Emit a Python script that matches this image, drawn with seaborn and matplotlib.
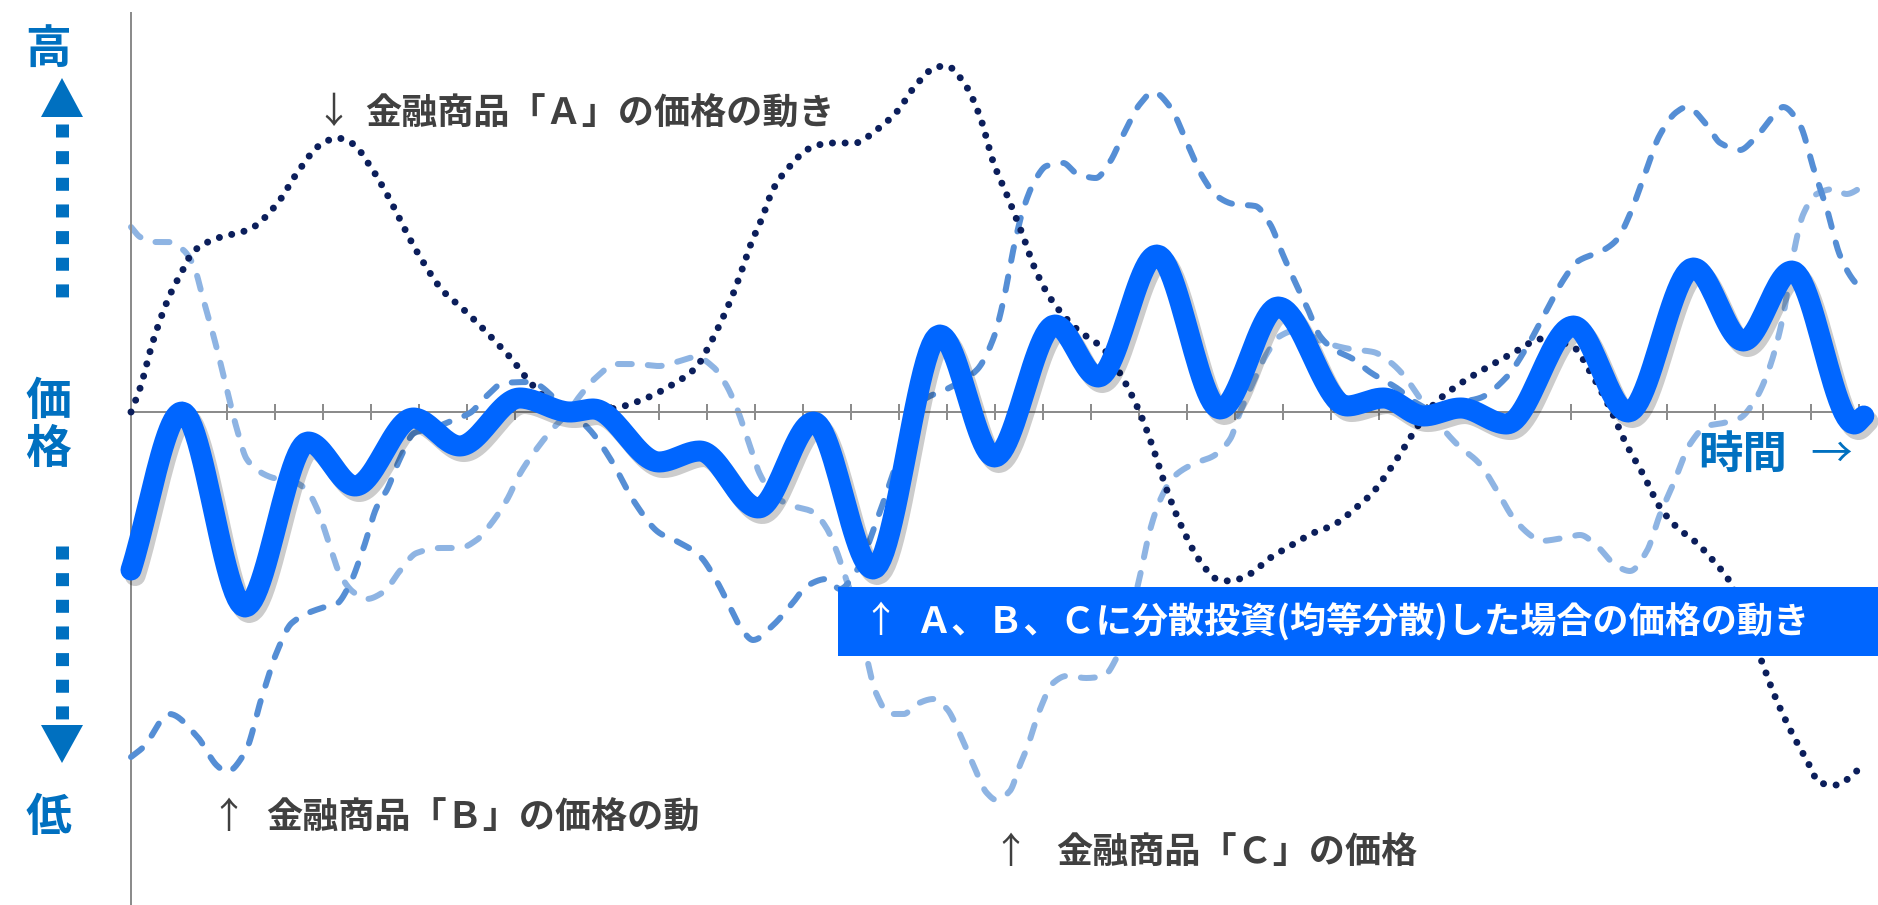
import numpy as np
import matplotlib
matplotlib.use("Agg")
import matplotlib.pyplot as plt
import matplotlib.patheffects as pe
from matplotlib.patches import Polygon, Rectangle
import seaborn as sns

# ---------------- data ----------------
# x: time (tick units 0..36), y: price relative to the axis
a_x = [0, 0.19, 0.46, 0.81, 1.06, 1.29, 1.75, 2.48, 3.04, 3.46, 3.94, 4.29, 4.63, 4.94,
       5.33, 5.81, 6.06, 6.5, 6.85, 7.24, 7.6, 7.93, 8.24, 8.7, 9.5, 10.19, 10.74, 11.23,
       11.78, 12.03, 12.27, 12.51, 12.69, 12.93, 13.14, 13.38, 13.73, 14.11, 14.56, 15.08,
       15.53, 15.95, 16.37, 16.78, 16.99, 17.37, 17.69, 17.97, 18.24, 18.6, 18.8, 19.15,
       19.7, 20.26, 20.67, 21.02, 21.3, 21.58, 21.92, 22.27, 22.62, 22.9, 23.31, 23.73,
       24.15, 24.63, 25.05, 25.54, 25.88, 26.16, 26.44, 26.78, 27.13, 27.62, 28.45, 28.94,
       29.35, 30.05, 30.4, 30.81, 31.15, 31.5, 31.85, 32.2, 32.62, 32.97, 33.3, 33.94,
       34.22, 34.56, 34.91, 35.19, 35.53, 35.98]
a_y = [0, 2.4, 7.1, 11.7, 14.0, 16.0, 17.3, 18.3, 20.8, 23.9, 26.7, 27.4, 26.8, 24.9,
       21.8, 17.3, 15.2, 12.1, 10.6, 8.8, 7.0, 5.3, 3.4, 1.2, 0.0, 0.5, 1.4, 2.6,
       4.5, 6.5, 8.8, 11.4, 13.7, 17.0, 19.3, 22.3, 24.6, 26.3, 26.9, 26.9,
       28.2, 30.0, 32.8, 34.5, 34.6, 32.8, 29.5, 24.9, 21.8, 17.4, 14.7, 11.4,
       8.3, 6.3, 3.3, -0.1, -3.7, -7.8, -11.8, -14.9, -16.7, -16.9, -16.2, -14.6,
       -13.4, -12.1, -11.3, -9.5, -8.0, -6.2, -4.2, -1.6, 0.7, 2.6, 5.0, 6.3,
       7.3, 6.5, 4.0, 0.4, -3.2, -6.2, -9.5, -11.5, -13.1, -14.9, -16.9, -24.5,
       -28.1, -31.7, -34.8, -37.1, -37.3, -35.8]

b_x = [0, 0.26, 0.8, 1.37, 1.8, 1.99, 2.38, 2.72, 3.03, 3.35, 3.97, 4.28, 4.56, 4.85,
       5.12, 5.33, 5.6, 5.9, 6.3, 6.72, 7.06, 7.41, 7.76, 8.3, 9.0, 9.56, 9.77, 10.05, 10.46,
       11.01, 11.36, 11.85, 12.2, 12.48, 12.76, 12.96, 13.38, 13.8, 14.08, 14.49, 14.77,
       15.1, 15.6, 16.0, 16.51, 17.0, 17.62, 17.97, 18.17, 18.38, 18.59, 18.86, 19.07,
       19.42, 19.69, 20.1, 20.38, 20.67, 21.02, 21.3, 21.65, 22.0, 22.34, 22.62, 22.97,
       23.42, 23.73, 24.0, 24.28, 24.49, 24.77, 25.05, 25.46, 25.81, 26.37, 26.78, 27.13,
       27.62, 28.1, 28.66, 29.08, 29.42, 29.84, 30.12, 30.68, 30.95, 31.23, 31.51, 31.85,
       32.2, 32.41, 32.83, 33.11, 33.52, 33.8, 34.29, 34.42, 34.77, 35.05, 35.33, 35.6,
       35.88, 36.1]
b_y = [-34.5, -33.5, -30.2, -32.4, -35.4, -36.0, -34.0, -28.6, -24.1, -21.1, -19.6, -19.2, -17.2, -13.5,
       -9.5, -7.8, -4.7, -2.1, -1.6, -0.8, -0.1, 1.6, 2.9, 3.0, 0.6, -1.8, -3.1, -5.2, -8.8,
       -12.1, -12.9, -14.4, -16.9, -19.5, -22.0, -22.8, -21.3, -19.0, -17.4, -16.7, -17.7,
       -16.0, -10.0, -4.5, 1.2, 2.3, 4.2, 7.4, 11.0, 16.2, 20.3, 23.4, 24.6,
       24.9, 23.9, 23.4, 24.9, 27.7, 30.8, 32.0, 30.5, 26.9, 23.4, 21.6, 20.8,
       20.6, 18.8, 15.7, 12.7, 10.6, 7.6, 6.3, 5.3, 4.0, 2.4, 0.9, 0.15,
       0.9, 1.4, 3.5, 6.5, 9.5, 13.2, 15.0, 16.2, 17.2, 19.8, 23.4, 27.7,
       30.0, 30.5, 28.7, 26.9, 26.2, 27.2, 30.0, 30.5, 28.7, 24.4, 20.3, 15.7,
       13.2, 12.1]

c_x = [0, 0.19, 0.47, 0.81, 1.09, 1.3, 1.51, 1.78, 1.99, 2.2, 2.41, 2.69, 2.97, 3.4,
       3.66, 3.87, 4.15, 4.35, 4.63, 4.91, 5.26, 5.6, 5.95, 6.44, 6.85, 7.2, 7.48, 7.83,
       8.1, 8.45, 8.8, 9.08, 9.35, 9.7, 10.1, 10.47, 11.0, 11.36, 11.78, 12.13, 12.4,
       12.62, 12.86, 13.1, 13.38, 13.73, 14.21, 14.49, 14.7, 14.91, 15.15, 15.33, 15.53,
       15.81, 16.1, 16.37, 16.72, 17.0, 17.27, 17.55, 17.83, 18.03, 18.31, 18.52, 18.66,
       18.94, 19.21, 19.49, 19.9, 20.26, 20.53, 20.81, 21.02, 21.23, 21.44, 21.72, 22.13,
       22.55, 22.9, 23.1, 23.38, 23.66, 23.94, 24.22, 24.49, 24.84, 25.4, 25.88, 26.23,
       26.51, 26.85, 27.2, 27.62, 28.1, 28.45, 28.8, 29.15, 29.35, 29.84, 30.19, 30.54,
       30.95, 31.23, 31.58, 31.85, 32.13, 32.48, 32.83, 33.17, 33.52, 33.86, 34.14, 34.42,
       34.63, 34.84, 35.12, 35.47, 35.74, 36.1]
c_y = [18.5, 17.5, 17.0, 17.0, 16.2, 14.7, 11.2, 6.5, 2.4, -1.6, -4.7, -6.0, -6.6, -7.0,
       -7.8, -9.6, -13.5, -16.2, -18.0, -18.7, -18.0, -15.9, -14.1, -13.6, -13.6, -12.8, -11.3, -8.8,
       -6.2, -3.7, -1.6, -0.2, 1.6, 3.5, 4.8, 4.8, 4.6, 5.0, 5.5, 4.5, 2.7,
       0.4, -2.9, -6.2, -8.3, -9.3, -10.0, -11.6, -13.9, -16.9, -20.0, -24.6, -28.2,
       -30.2, -30.2, -29.2, -28.7, -29.7, -32.2, -35.3, -38.1, -38.8, -37.9, -35.3, -33.7,
       -29.7, -27.1, -26.4, -26.6, -26.4, -24.6, -20.5, -16.4, -11.8, -8.8, -6.5, -5.2,
       -4.4, -2.7, -0.1, 3.0, 5.8, 7.6, 8.1, 7.8, 7.0, 6.3, 6.0, 5.0,
       3.7, 1.4, -0.9, -3.2, -5.2, -7.8, -10.6, -12.3, -12.9, -12.6, -12.3, -13.4,
       -15.4, -15.9, -13.9, -10.3, -7.2, -3.2, -1.4, -1.1, -0.6, 1.4, 4.5, 9.6,
       15.7, 19.8, 21.8, 22.3, 21.8, 22.6]

t_x = [0, 1.06, 2.375, 3.69, 4.67, 5.88, 6.85, 8.1, 9.15, 9.63, 11.0, 11.85, 13.07, 14.22,
       15.46, 16.85, 17.99, 19.25, 20.15, 21.37, 22.69, 23.9, 25.33, 26.09, 26.93, 27.7,
       28.66, 30.05, 31.19, 32.55, 33.59, 34.6, 35.9, 36.1]
t_y = [-15.8, 0.0, -19.5, -3.0, -7.4, -0.6, -3.4, 1.4, 0.0, 0.3, -5.0, -3.9, -9.6, -1.0,
       -15.7, 7.7, -4.5, 8.7, 3.5, 15.7, 0.3, 10.5, 0.6, 1.4, -0.4, 0.4,
       -1.2, 8.6, 0.0, 14.4, 7.1, 14.1, -1.2, -0.4]

label_a = "金融商品「Ａ」の価格の動き"
label_b = "金融商品「Ｂ」の価格の動"
label_c = "金融商品「Ｃ」の価格"
label_avg = "Ａ、Ｂ、Ｃに分散投資(均等分散)した場合の価格の動き"
y_high, y_mid, y_low = "高", "価格", "低"
x_label = "時間"

# ---------------- colours ----------------
COL_A = "#0B1E5B"
COL_B = "#558ED5"
COL_C = "#8EB4E3"
COL_T = "#0066FF"
COL_AXIS = "#8C8C8C"
COL_TXT = "#404040"
COL_BLUE = "#0070C0"


def smooth(x, y, per=24):
    """Monotone cubic (smooth-line) rendering of the read points."""
    x = np.asarray(x, float)
    y = np.asarray(y, float)
    h = np.diff(x)
    d = np.diff(y) / h
    m = np.zeros_like(y)
    m[0], m[-1] = d[0], d[-1]
    for k in range(1, len(x) - 1):
        if d[k - 1] * d[k] > 0:
            w1 = 2 * h[k] + h[k - 1]
            w2 = h[k] + 2 * h[k - 1]
            m[k] = (w1 + w2) / (w1 / d[k - 1] + w2 / d[k])
    xs, ys = [], []
    for k in range(len(x) - 1):
        t = np.linspace(0, 1, per, endpoint=False)
        h00 = 2 * t**3 - 3 * t**2 + 1
        h10 = t**3 - 2 * t**2 + t
        h01 = -2 * t**3 + 3 * t**2
        h11 = t**3 - t**2
        xs.append(x[k] + t * h[k])
        ys.append(h00 * y[k] + h10 * h[k] * m[k] + h01 * y[k + 1] + h11 * h[k] * m[k + 1])
    xs.append([x[-1]])
    ys.append([y[-1]])
    return np.concatenate(xs), np.concatenate(ys)


sns.set_theme(style="white")
plt.rcParams["font.family"] = ["Noto Sans CJK JP", "DejaVu Sans"]

W, H = 1878, 905
PX = 72 / 100  # points per pixel
fig = plt.figure(figsize=(W / 100, H / 100), dpi=100)
fig.patch.set_facecolor("white")

XMAX = 36.1
ax = fig.add_axes([131 / W, 0, XMAX * 48 / W, (H - 13) / H])
ax.set_xlim(0, XMAX)
ax.set_ylim(-49.3, 39.9)
ax.patch.set_alpha(0)

for side in ("top", "right"):
    ax.spines[side].set_visible(False)
ax.spines["left"].set_color(COL_AXIS)
ax.spines["left"].set_linewidth(2 * PX)
ax.spines["bottom"].set_position(("data", 0))
ax.spines["bottom"].set_color(COL_AXIS)
ax.spines["bottom"].set_linewidth(2 * PX)
ax.set_xticks(np.arange(0, 37))
ax.set_yticks([])
ax.tick_params(axis="x", direction="inout", length=16 * PX, width=2 * PX,
               color=COL_AXIS, labelbottom=False, bottom=True)
ax.grid(False)

dash_style = (0, (2.33, 2.67))
# series C (light dashed)
xs, ys = smooth(c_x, c_y)
sns.lineplot(x=xs, y=ys, ax=ax, sort=False, estimator=None, color=COL_C,
             linewidth=6 * PX, linestyle=dash_style, dash_capstyle="round",
             clip_on=False, zorder=2)
# series B (medium dashed)
xs, ys = smooth(b_x, b_y)
sns.lineplot(x=xs, y=ys, ax=ax, sort=False, estimator=None, color=COL_B,
             linewidth=6 * PX, linestyle=dash_style, dash_capstyle="round",
             clip_on=False, zorder=3)
# series A (dotted)
xs, ys = smooth(a_x, a_y)
sns.lineplot(x=xs, y=ys, ax=ax, sort=False, estimator=None, color=COL_A,
             linewidth=7 * PX, linestyle=(0, (0.01, 1.8)), dash_capstyle="round",
             clip_on=False, zorder=4)
# diversified (thick)
xs, ys = smooth(t_x, t_y)
sns.lineplot(x=xs, y=ys, ax=ax, sort=False, estimator=None, color=COL_T,
             linewidth=21 * PX, solid_capstyle="round", solid_joinstyle="round",
             clip_on=False, zorder=5,
             path_effects=[pe.SimpleLineShadow(offset=(3, -4), shadow_color="black", alpha=0.2),
                           pe.Normal()])
if ax.get_legend() is not None:
    ax.get_legend().remove()

# ---------------- overlay in pixel coordinates ----------------
ov = fig.add_axes([0, 0, 1, 1], zorder=10)
ov.set_xlim(0, W)
ov.set_ylim(H, 0)
ov.axis("off")

# left vertical indicator
big = 33
ov.text(48, 50, y_high, fontsize=big, fontweight="bold", color=COL_BLUE, ha="center", va="center")
ov.text(48, 402, y_mid[0], fontsize=big, fontweight="bold", color=COL_BLUE, ha="center", va="center")
ov.text(48, 450, y_mid[1], fontsize=big, fontweight="bold", color=COL_BLUE, ha="center", va="center")
ov.text(48, 818, y_low, fontsize=big, fontweight="bold", color=COL_BLUE, ha="center", va="center")
ov.add_patch(Polygon([(62, 78), (41, 117), (83, 117)], closed=True, color=COL_BLUE, lw=0))
ov.add_patch(Polygon([(41, 725), (83, 725), (62, 763)], closed=True, color=COL_BLUE, lw=0))
ov.plot([62, 62], [124, 297], color=COL_BLUE, lw=13 * PX, linestyle=(0, (1, 1.05)),
        dash_capstyle="butt")
ov.plot([62, 62], [546, 719], color=COL_BLUE, lw=13 * PX, linestyle=(0, (1, 1.05)),
        dash_capstyle="butt")

# series labels
fs = 26
ov.text(333, 113, "↓", fontsize=fs, color=COL_TXT, ha="center", va="center")
ov.text(365, 114, label_a, fontsize=fs, fontweight="bold", color=COL_TXT, ha="left", va="center")
ov.text(228, 818, "↑", fontsize=fs, color=COL_TXT, ha="center", va="center")
ov.text(266, 818, label_b, fontsize=fs, fontweight="bold", color=COL_TXT, ha="left", va="center")
ov.text(1010, 853, "↑", fontsize=fs, color=COL_TXT, ha="center", va="center")
ov.text(1056, 853, label_c, fontsize=fs, fontweight="bold", color=COL_TXT, ha="left", va="center")

ov.add_patch(Rectangle((838, 587), W - 838, 69, color=COL_T, lw=0))
ov.text(880, 622, "↑", fontsize=fs, color="white", ha="center", va="center")
ov.text(915, 622, label_avg, fontsize=fs, fontweight="bold", color="white", ha="left", va="center")

ov.text(1698, 455, x_label, fontsize=32, fontweight="bold", color=COL_BLUE, ha="left", va="center")
ov.text(1831, 455, "→", fontsize=30, color=COL_BLUE, ha="center", va="center")

fig.savefig("out.png", dpi=100, facecolor="white")
